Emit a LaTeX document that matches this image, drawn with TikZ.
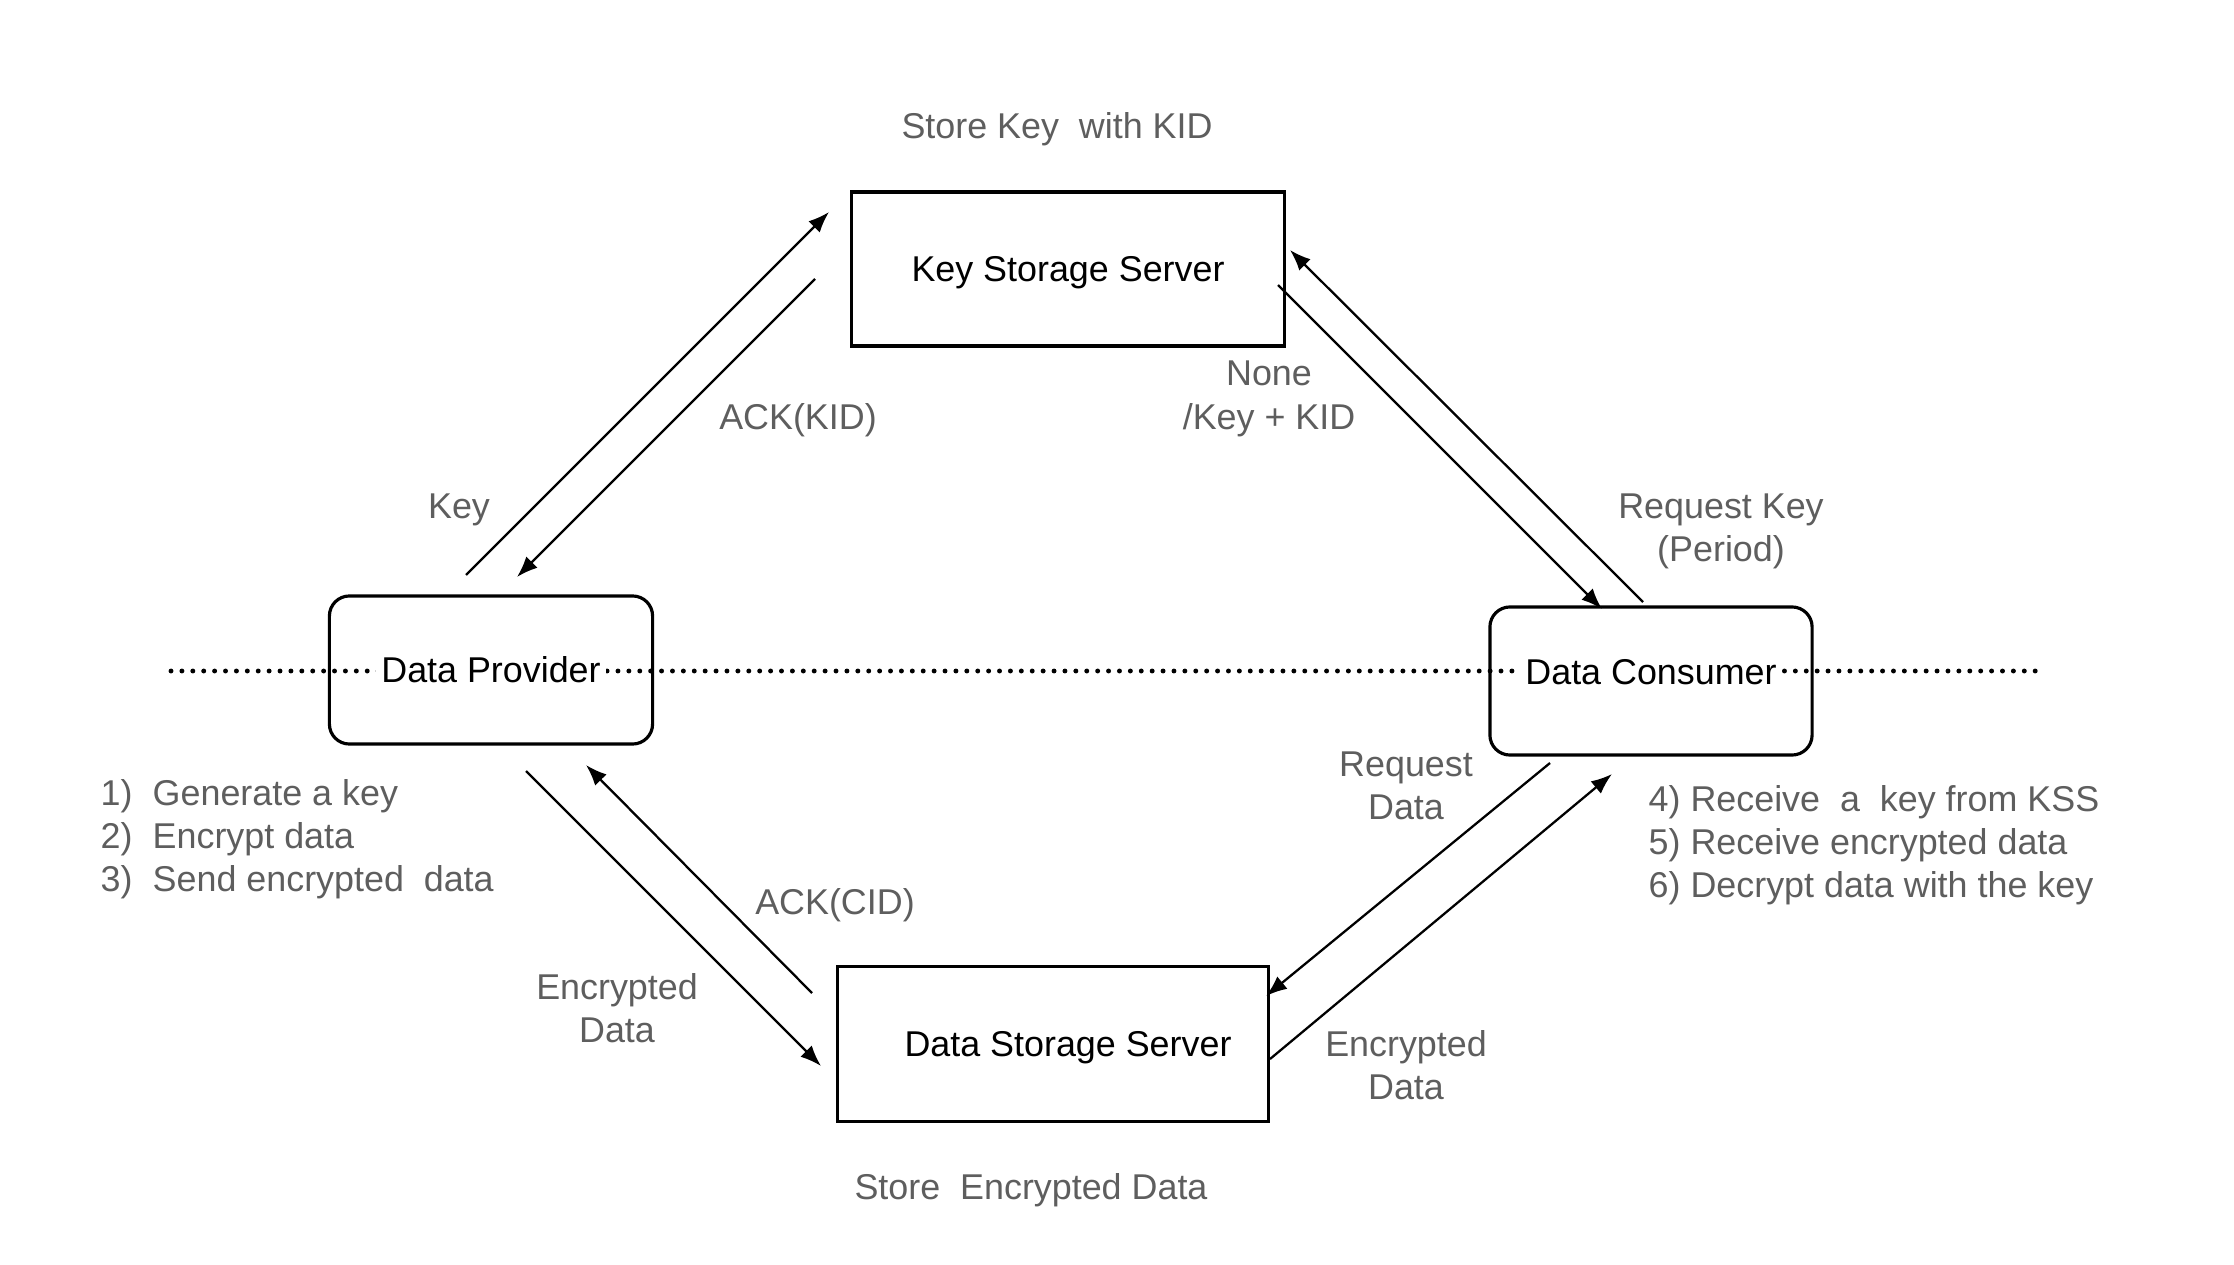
\documentclass[tikz,border=0pt]{standalone}
\usepackage{fontspec}
\setmainfont{Liberation Sans}
\usepackage{xcolor}
\usetikzlibrary{arrows.meta}
\usetikzlibrary{calc}
\usetikzlibrary{positioning}
\definecolor{labelgray}{RGB}{94,94,94}
\newcommand\diafont{\fontsize{10.2}{12.3}\selectfont}
\newcommand\cutout[1]{{\setlength{\fboxsep}{1.5pt}\colorbox{white}{#1}}}
\tikzset{
    party box/.style={
        draw,
        line width=0.9pt,
        rounded corners=0.2cm,
        minimum width=3.23cm,
        minimum height=1.48cm,
        inner sep=0,
        text height=0.72em,
        text depth=0pt,
        font=\diafont,
    },
    server box/.style={
        draw,
        line width=0.9pt,
        minimum width=4.32cm,
        minimum height=1.54cm,
        inner sep=0,
        text height=0.72em,
        text depth=0pt,
        font=\diafont,
    },
    msg arrow/.style={
        line width=0.65pt,
        -{Latex[length=2.1mm,width=1.6mm]},
    },
    msg label/.style={
        text=labelgray,
        align=center,
        inner sep=0,
        font=\diafont,
    },
    step list/.style={
        msg label,
        align=left,
        anchor=west,
    },
    divider/.style={
        line width=1.4pt,
        dash pattern=on 0pt off 3.1pt,
        line cap=round,
    },
}

\begin{document}
\begin{tikzpicture}[x=0.01cm, y=-0.01cm]

    \useasboundingbox (0,0) rectangle (2234,1264);

    % dotted divider behind the two parties
    \coordinate (divW) at (171,671);
    \coordinate (divE) at (2040,671);
    \draw[divider] (divW) -- (divE);

    \node[server box] (kss) at (1068,269) {Key Storage Server};
    \node[server box, minimum width=4.30cm, minimum height=1.55cm] (dss) at (1053,1044) {\hspace*{0.3cm}Data Storage Server};
    \node[party box] (dp) at (491,670) {\cutout{Data Provider}};
    \node[party box, minimum width=3.22cm, text depth=0.5em] (dc) at (1651,681) {\cutout{Data Consumer}};

    % message end points
    \coordinate (keyA) at (466,575);
    \coordinate (keyB) at (829,212);
    \coordinate (ackkA) at (815,279);
    \coordinate (ackkB) at (517,577);
    \coordinate (reqkA) at (1643,602);
    \coordinate (reqkB) at (1290,250);
    \coordinate (retkA) at (1278,285);
    \coordinate (retkB) at (1602,609);
    \coordinate (encA) at (526,771);
    \coordinate (encB) at (821,1066);
    \coordinate (ackcA) at (812,993);
    \coordinate (ackcB) at (586,765);
    \coordinate (reqdA) at (1550,763);
    \coordinate (reqdB) at (1266,996);
    \coordinate (retdA) at (1270,1059);
    \coordinate (retdB) at (1612,774);

    \foreach \from/\to in {keyA/keyB, ackkA/ackkB, reqkA/reqkB, retkA/retkB, encA/encB, ackcA/ackcB, reqdA/reqdB, retdA/retdB}
    {
        \draw[msg arrow] (\from) -- (\to);
    }

    \node[msg label] (storekey) at (1057,129) {Store Key\ \ with KID};
    \node[msg label] (keylbl) at (459,510) {Key};
    \node[msg label] (ackkid) at (798,420) {ACK(KID)};
    \node[msg label] (nonekey) at (1269,399) {None\\/Key + KID};
    \node[msg label] (reqkey) at (1721,531) {Request Key\\(Period)};
    \node[msg label] (ackcid) at (835,905) {ACK(CID)};
    \node[msg label] (encleft) at (617,1008) {Encrypted\\Data};
    \node[msg label] (reqdata) at (1406,786) {Request\\Data};
    \node[msg label] (encright) at (1406,1065) {Encrypted\\Data};
    \node[msg label] (storeenc) at (1031,1190) {Store\ \ Encrypted Data};

    \node[step list] (dpsteps) at (100,839) {\makebox[0.52cm][l]{1)}Generate a key\\
        \makebox[0.52cm][l]{2)}Encrypt data\\
        \makebox[0.52cm][l]{3)}Send encrypted\ \ data};
    \node[step list] (dcsteps) at (1648,845) {4) Receive\ \ a\ \ key from KSS\\
        5) Receive encrypted data\\
        6) Decrypt data with the key};

\end{tikzpicture}
\end{document}
